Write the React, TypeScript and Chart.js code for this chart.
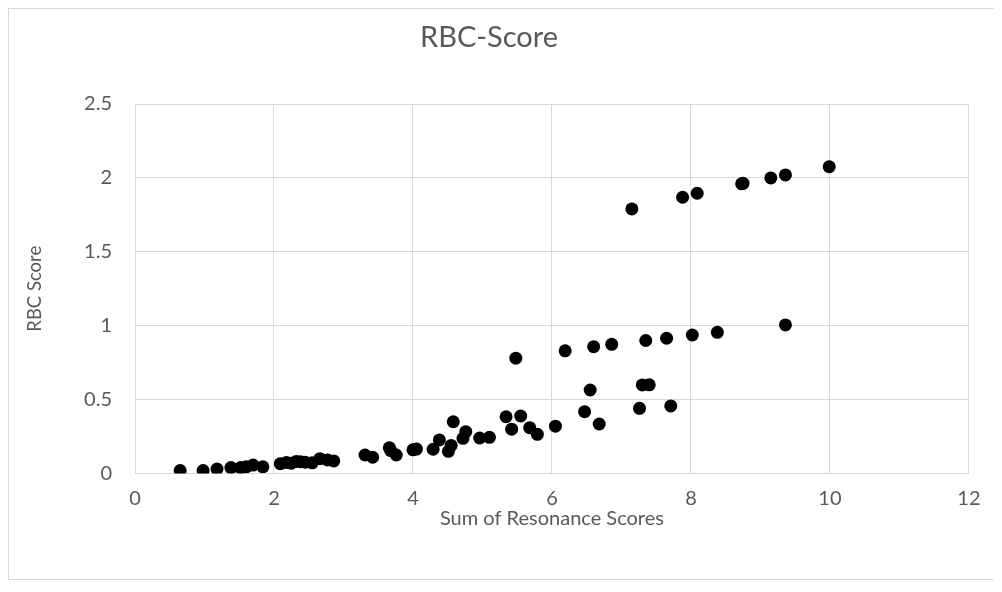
import React, { useEffect, useRef } from "react";
import { Chart, registerables } from "chart.js";

Chart.register(...registerables);

const xValues: number[] = [
  0.65, 0.98, 1.18, 1.38, 1.52, 1.6, 1.7, 1.84,
  2.09, 2.18, 2.25, 2.32, 2.38, 2.45, 2.55, 2.66, 2.77, 2.86,
  3.31, 3.42, 3.66, 3.68, 3.76, 4.0, 4.05, 4.29, 4.38, 4.51, 4.55, 4.58,
  4.72, 4.76, 4.96, 5.1, 5.34, 5.42, 5.48, 5.55, 5.68, 5.79,
  6.05, 6.19, 6.47, 6.55, 6.6, 6.68, 6.86,
  7.15, 7.26, 7.3, 7.35, 7.4, 7.65, 7.71, 7.88,
  8.02, 8.09, 8.38, 8.73, 8.75, 9.15, 9.36, 9.36, 9.99,
];
const yValues: number[] = [
  0.02, 0.02, 0.03, 0.04, 0.04, 0.045, 0.057, 0.045,
  0.066, 0.075, 0.07, 0.082, 0.08, 0.076, 0.072, 0.1, 0.092, 0.085,
  0.125, 0.11, 0.175, 0.155, 0.125, 0.16, 0.165, 0.164, 0.227, 0.15, 0.19, 0.35,
  0.238, 0.283, 0.24, 0.245, 0.384, 0.3, 0.78, 0.389, 0.31, 0.265,
  0.32, 0.83, 0.418, 0.565, 0.858, 0.335, 0.874,
  1.79, 0.441, 0.599, 0.9, 0.6, 0.915, 0.457, 1.869,
  0.937, 1.896, 0.955, 1.96, 1.963, 2.0, 2.02, 1.005, 2.076,
];

const chartTitle = "RBC-Score";
const xTitle = "Sum of Resonance Scores";
const yTitle = "RBC Score";

const FONT = "Lato, 'Open Sans', sans-serif";
const TEXT = "#595959";
const GRID = "#d9d9d9";

export default function App() {
  const ref = useRef<HTMLCanvasElement | null>(null);

  useEffect(() => {
    if (!ref.current) return;
    const points = xValues.map((x, i) => ({ x, y: yValues[i] }));
    const chart = new Chart(ref.current, {
      type: "scatter",
      data: {
        datasets: [
          {
            label: yTitle,
            data: points,
            backgroundColor: "#000000",
            borderColor: "#000000",
            borderWidth: 0,
            pointRadius: 6.5,
          },
        ],
      },
      options: {
        animation: false,
        responsive: false,
        maintainAspectRatio: false,
        layout: { padding: { left: 0, right: 25, top: 0, bottom: 0 } },
        plugins: {
          legend: { display: false },
          tooltip: { enabled: false },
          title: {
            display: true,
            text: chartTitle,
            color: TEXT,
            font: { family: FONT, size: 29, weight: "normal" },
            padding: { top: 11.6, bottom: 48.6 },
          },
        },
        scales: {
          x: {
            type: "linear",
            min: 0,
            max: 12,
            ticks: {
              stepSize: 2,
              color: TEXT,
              font: { family: FONT, size: 20 },
              padding: 13.5,
              callback: (v: any) => String(v),
            },
            grid: { color: GRID, lineWidth: 1, drawTicks: false },
            border: { color: GRID, width: 1 },
            title: {
              display: true,
              text: xTitle,
              color: TEXT,
              font: { family: FONT, size: 20 },
              padding: { top: 0, bottom: 48 },
            },
            afterFit: (scale: any) => {
              scale.height = 105.5;
            },
          },
          y: {
            type: "linear",
            min: 0,
            max: 2.5,
            ticks: {
              stepSize: 0.5,
              color: TEXT,
              font: { family: FONT, size: 20 },
              padding: 23,
              callback: (v: any) => String(v),
            },
            grid: { color: GRID, lineWidth: 1, drawTicks: false },
            border: { display: false },
            title: {
              display: true,
              text: yTitle,
              color: TEXT,
              font: { family: FONT, size: 18.5 },
              padding: { top: 15, bottom: 0 },
            },
            afterFit: (scale: any) => {
              scale.width = 126;
            },
          },
        },
      },
    });
    return () => chart.destroy();
  }, []);

  return (
    <div
      style={{
        width: 985,
        height: 570,
        borderTop: `1px solid ${GRID}`,
        borderLeft: `1px solid ${GRID}`,
        borderBottom: `1px solid ${GRID}`,
        background: "#ffffff",
      }}
    >
      <canvas ref={ref} width={985} height={570} style={{ display: "block" }} />
    </div>
  );
}
